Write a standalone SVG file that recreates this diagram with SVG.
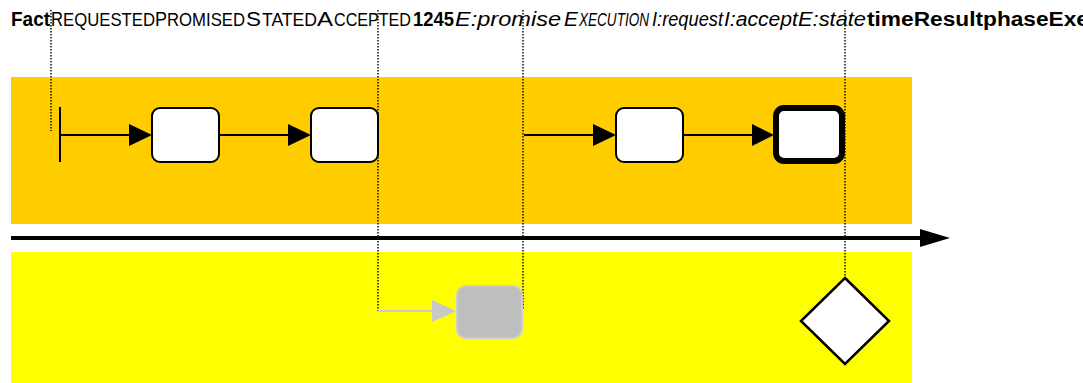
<svg xmlns="http://www.w3.org/2000/svg" width="1083" height="383" viewBox="0 0 1083 383">
<style>
text{font-family:"Liberation Sans",Arial,sans-serif;fill:#000}
.big{font-size:21px}
.sc{font-size:18px}
.b{font-size:20px;font-weight:bold}
.i{font-size:20px;font-style:italic}
.isc{font-size:18px;font-style:italic}
.box{fill:#fff;stroke:#000;stroke-width:2}
.ln{stroke:#000;stroke-width:2;fill:none}
.dot{stroke:#000;stroke-width:1.4;stroke-dasharray:1.5 1.5;fill:none}
</style>
<g id="lanes">
<rect x="11" y="77" width="901" height="147" fill="#FFCC00"/>
<rect x="11" y="252" width="901" height="131" fill="#FFFF00"/>
</g>
<g id="labels">
<text class="b" x="11" y="26" textLength="39" lengthAdjust="spacingAndGlyphs">Fact</text>
<text class="big" x="51" y="26" textLength="12" lengthAdjust="spacingAndGlyphs">R</text>
<text class="sc" x="63" y="26" textLength="92" lengthAdjust="spacingAndGlyphs">EQUESTED</text>
<text class="big" x="155" y="26" textLength="12" lengthAdjust="spacingAndGlyphs">P</text>
<text class="sc" x="167" y="26" textLength="78" lengthAdjust="spacingAndGlyphs">ROMISED</text>
<text class="big" x="246" y="26" textLength="15" lengthAdjust="spacingAndGlyphs">S</text>
<text class="sc" x="262" y="26" textLength="55" lengthAdjust="spacingAndGlyphs">TATED</text>
<text class="big" x="317" y="26" textLength="16" lengthAdjust="spacingAndGlyphs">A</text>
<text class="sc" x="334" y="26" textLength="77" lengthAdjust="spacingAndGlyphs">CCEPTED</text>
<text class="b" x="413" y="26" textLength="41" lengthAdjust="spacingAndGlyphs">1245</text>
<text class="i" x="455" y="26" textLength="106" lengthAdjust="spacingAndGlyphs">E:promise</text>
<text class="i" x="564" y="26" textLength="14" lengthAdjust="spacingAndGlyphs">E</text>
<text class="isc" x="579" y="26" textLength="70" lengthAdjust="spacingAndGlyphs">XECUTION</text>
<text class="i" x="652" y="26" textLength="71" lengthAdjust="spacingAndGlyphs">I:request</text>
<text class="i" x="724" y="26" textLength="74" lengthAdjust="spacingAndGlyphs">I:accept</text>
<text class="i" x="798" y="26" textLength="68" lengthAdjust="spacingAndGlyphs">E:state</text>
<text class="b" x="867" y="26" textLength="222" lengthAdjust="spacingAndGlyphs">timeResultphaseExe</text>
</g>
<g id="timeline">
<line x1="11" y1="238" x2="922" y2="238" stroke="#000" stroke-width="4"/>
<polygon points="920,229 950,238 920,247" fill="#000"/>
</g>
<g id="connectors">
<path class="dot" d="M51,10 V131"/>
<path class="dot" d="M378,10 V311"/>
<path class="dot" d="M523,10 V309"/>
<path class="dot" d="M845,10 V278"/>
<line class="ln" x1="60" y1="107" x2="60" y2="162"/>
<line class="ln" x1="60" y1="135" x2="130" y2="135"/>
<polygon points="129,124 152,135 129,146"/>
<line class="ln" x1="219" y1="135" x2="289" y2="135"/>
<polygon points="288,124 311,135 288,146"/>
<line class="ln" x1="524" y1="135" x2="594" y2="135"/>
<polygon points="593,124 616,135 593,146"/>
<line class="ln" x1="683" y1="135" x2="754" y2="135"/>
<polygon points="752,124 774,135 752,146"/>
<line x1="378" y1="311" x2="433" y2="311" stroke="#C8C8C8" stroke-width="2"/>
<polygon points="432,300 456,311 432,322" fill="#C8C8C8"/>
</g>
<g id="node1"><rect class="box" x="152" y="108" width="67" height="54" rx="8"/></g>
<g id="node2"><rect class="box" x="311" y="108" width="67" height="54" rx="8"/></g>
<g id="node3"><rect class="box" x="616" y="108" width="67" height="54" rx="8"/></g>
<g id="node4"><rect x="776" y="108" width="66" height="53" rx="8" fill="#fff" stroke="#000" stroke-width="6"/></g>
<g id="node5"><rect x="457" y="286" width="65" height="52" rx="9" fill="#BEBEBE" stroke="#CCCCCC" stroke-width="2"/></g>
<g id="node6"><polygon points="845,278 889,321 845,364 801,321" fill="#fff" stroke="#000" stroke-width="2.5"/></g>
</svg>
